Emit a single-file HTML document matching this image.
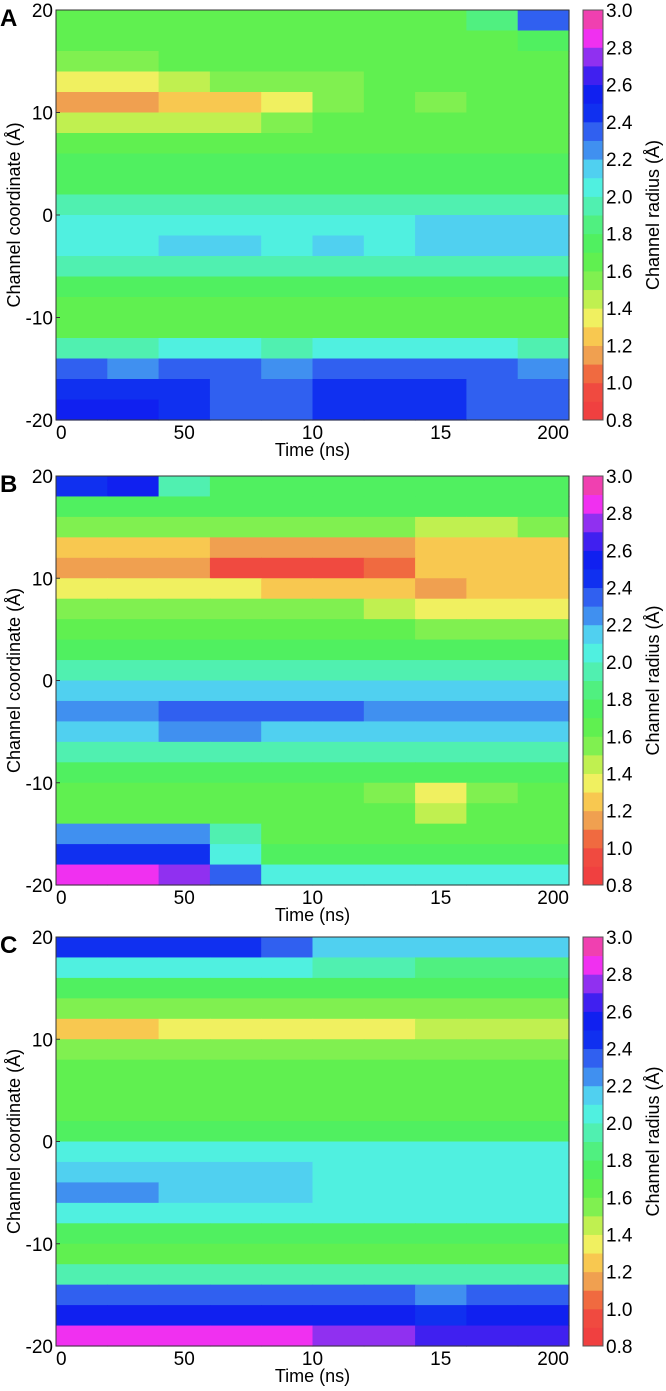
<!DOCTYPE html>
<html><head><meta charset="utf-8"><style>
html,body{margin:0;padding:0;background:#fff;}
svg{display:block;font-family:"Liberation Sans",Arial,sans-serif;}
</style></head><body>
<svg id="fig" width="666" height="1391" viewBox="0 0 666 1391" xmlns="http://www.w3.org/2000/svg"></svg>
<script>
// Colour levels (0.8 - 3.0 in 0.1 steps)
const levelColors=["#f04040","#f04a40","#f06a40","#f0a050","#f8c850","#f0f060","#c0f050","#80f050","#60f050","#50f060","#50f080","#50f0b0","#50f0e0","#50d0f0","#4090f0","#3060f0","#1030f0","#1020f0","#4020f0","#9030f0","#f030f0","#f040b0"];
const cbTicks=[0.8,1.0,1.2,1.4,1.6,1.8,2.0,2.2,2.4,2.6,2.8,3.0];
const yTicks=[20,10,0,-10,-20];
const xTickLabels=["0","50","10","15","200"];
const xTickVals=[0,50,100,150,200];
// Radius grids: rows = z bins from 20 down to -20 (2 Å), cols = time bins (20 ns)
const radiusA=[
[1.6,1.6,1.6,1.6,1.6,1.6,1.6,1.6,1.8,2.3],
[1.6,1.6,1.6,1.6,1.6,1.6,1.6,1.6,1.6,1.7],
[1.5,1.5,1.6,1.6,1.6,1.6,1.6,1.6,1.6,1.6],
[1.3,1.3,1.4,1.5,1.5,1.5,1.6,1.6,1.6,1.6],
[1.1,1.1,1.2,1.2,1.3,1.5,1.6,1.5,1.6,1.6],
[1.4,1.4,1.4,1.4,1.5,1.6,1.6,1.6,1.6,1.6],
[1.6,1.6,1.6,1.6,1.6,1.6,1.6,1.6,1.6,1.6],
[1.7,1.7,1.7,1.7,1.7,1.7,1.7,1.7,1.7,1.7],
[1.7,1.7,1.7,1.7,1.7,1.7,1.7,1.7,1.7,1.7],
[1.9,1.9,1.9,1.9,1.9,1.9,1.9,1.9,1.9,1.9],
[2.0,2.0,2.0,2.0,2.0,2.0,2.0,2.1,2.1,2.1],
[2.0,2.0,2.1,2.1,2.0,2.1,2.0,2.1,2.1,2.1],
[1.9,1.9,1.9,1.9,1.9,1.9,1.9,1.9,1.9,1.9],
[1.7,1.7,1.7,1.7,1.7,1.7,1.7,1.7,1.7,1.7],
[1.6,1.6,1.6,1.6,1.6,1.6,1.6,1.6,1.6,1.6],
[1.6,1.6,1.6,1.6,1.6,1.6,1.6,1.6,1.6,1.6],
[1.9,1.9,2.0,2.0,1.9,2.0,2.0,2.0,2.0,1.9],
[2.3,2.2,2.3,2.3,2.2,2.3,2.3,2.3,2.3,2.2],
[2.4,2.4,2.4,2.3,2.3,2.4,2.4,2.4,2.3,2.3],
[2.5,2.5,2.4,2.3,2.3,2.4,2.4,2.4,2.3,2.3]];
const radiusB=[
[2.4,2.5,1.9,1.7,1.7,1.7,1.7,1.7,1.7,1.7],
[1.7,1.7,1.7,1.7,1.7,1.7,1.7,1.7,1.7,1.7],
[1.5,1.5,1.5,1.5,1.5,1.5,1.5,1.4,1.4,1.5],
[1.2,1.2,1.2,1.1,1.1,1.1,1.1,1.2,1.2,1.2],
[1.1,1.1,1.1,0.9,0.9,0.9,1.0,1.2,1.2,1.2],
[1.3,1.3,1.3,1.3,1.2,1.2,1.2,1.1,1.2,1.2],
[1.5,1.5,1.5,1.5,1.5,1.5,1.4,1.3,1.3,1.3],
[1.6,1.6,1.6,1.6,1.6,1.6,1.6,1.5,1.5,1.5],
[1.7,1.7,1.7,1.7,1.7,1.7,1.7,1.7,1.7,1.7],
[1.9,1.9,1.9,1.9,1.9,1.9,1.9,1.9,1.9,1.9],
[2.1,2.1,2.1,2.1,2.1,2.1,2.1,2.1,2.1,2.1],
[2.2,2.2,2.3,2.3,2.3,2.3,2.2,2.2,2.2,2.2],
[2.1,2.1,2.2,2.2,2.1,2.1,2.1,2.1,2.1,2.1],
[1.9,1.9,1.9,1.9,1.9,1.9,1.9,1.9,1.9,1.9],
[1.7,1.7,1.7,1.7,1.7,1.7,1.7,1.7,1.7,1.7],
[1.6,1.6,1.6,1.6,1.6,1.6,1.5,1.3,1.5,1.6],
[1.6,1.6,1.6,1.6,1.6,1.6,1.6,1.4,1.6,1.6],
[2.2,2.2,2.2,1.9,1.6,1.6,1.6,1.6,1.6,1.6],
[2.4,2.4,2.4,2.0,1.7,1.7,1.7,1.7,1.7,1.7],
[2.8,2.8,2.7,2.3,2.0,2.0,2.0,2.0,2.0,2.0]];
const radiusC=[
[2.4,2.4,2.4,2.4,2.3,2.1,2.1,2.1,2.1,2.1],
[2.0,2.0,2.0,2.0,2.0,1.9,1.9,1.8,1.8,1.8],
[1.7,1.7,1.7,1.7,1.7,1.7,1.7,1.7,1.7,1.7],
[1.5,1.5,1.5,1.5,1.5,1.5,1.5,1.5,1.5,1.5],
[1.2,1.2,1.3,1.3,1.3,1.3,1.3,1.4,1.4,1.4],
[1.5,1.5,1.5,1.5,1.5,1.5,1.5,1.5,1.5,1.5],
[1.6,1.6,1.6,1.6,1.6,1.6,1.6,1.6,1.6,1.6],
[1.6,1.6,1.6,1.6,1.6,1.6,1.6,1.6,1.6,1.6],
[1.6,1.6,1.6,1.6,1.6,1.6,1.6,1.6,1.6,1.6],
[1.7,1.7,1.7,1.7,1.7,1.7,1.7,1.7,1.7,1.7],
[2.0,2.0,2.0,2.0,2.0,2.0,2.0,2.0,2.0,2.0],
[2.1,2.1,2.1,2.1,2.1,2.0,2.0,2.0,2.0,2.0],
[2.2,2.2,2.1,2.1,2.1,2.0,2.0,2.0,2.0,2.0],
[2.0,2.0,2.0,2.0,2.0,2.0,2.0,2.0,2.0,2.0],
[1.7,1.7,1.7,1.7,1.7,1.7,1.7,1.7,1.7,1.7],
[1.6,1.6,1.6,1.6,1.6,1.6,1.6,1.6,1.6,1.6],
[1.9,1.9,1.9,1.9,1.9,1.9,1.9,1.9,1.9,1.9],
[2.3,2.3,2.3,2.3,2.3,2.3,2.3,2.2,2.3,2.3],
[2.5,2.5,2.5,2.5,2.5,2.5,2.5,2.4,2.5,2.5],
[2.8,2.8,2.8,2.8,2.8,2.7,2.7,2.6,2.6,2.6]];

const NS="http://www.w3.org/2000/svg";
const svg=document.getElementById('fig');
function mk(tag,attrs,parent){const e=document.createElementNS(NS,tag);for(const k in attrs)e.setAttribute(k,attrs[k]);(parent||svg).appendChild(e);return e;}
function colorFor(r){let i=Math.floor(Math.round((r-0.8)*1000)/100);i=Math.max(0,Math.min(levelColors.length-1,i));return levelColors[i];}

const X0=56,X1=569,CB0=583,CB1=603;
const panels=[{id:"a",label:"A",top:10,bot:420,data:radiusA},{id:"b",label:"B",top:476,bot:885,data:radiusB},{id:"c",label:"C",top:937,bot:1346,data:radiusC}];

panels.forEach(p=>{
  const g=mk('g',{});
  
  
  const xs=t=>X0+(t/200)*(X1-X0);
  const ys=z=>p.top+(20-z)/40*(p.bot-p.top);
  const hm=mk('g',{},g);
  
  
  const nr=p.data.length,nc=p.data[0].length;
  p.data.forEach((row,ri)=>{
    row.forEach((v,ci)=>{
      const z0=20-ri*40/nr,z1=20-(ri+1)*40/nr,t0=ci*200/nc,t1=(ci+1)*200/nc;
      const c=mk('rect',{x:xs(t0),y:ys(z0),width:xs(t1)-xs(t0)+0.6,height:ys(z1)-ys(z0)+0.6,fill:colorFor(v)},hm);
      
      
    });
  });
  const fr=mk('rect',{x:X0,y:p.top,width:X1-X0,height:p.bot-p.top,fill:'none',stroke:'#333',"stroke-width":1},g);
  
  
  const pl=mk('text',{x:0,y:p.top+16,"font-size":24,"font-weight":"bold"},g);pl.textContent=p.label;
  
  
  yTicks.forEach(z=>{
    const t=mk('text',{x:53,y:ys(z)+7,"font-size":19,"text-anchor":"end"},g);t.textContent=z;
    
    
    mk('line',{x1:X0,x2:X0+4,y1:ys(z),y2:ys(z),stroke:'#333'},g);
  });
  xTickVals.forEach((v,i)=>{
    const t=mk('text',{x:xs(v),y:p.bot+19,"font-size":19,"text-anchor":i==0?"start":(i==4?"end":"middle")},g);
    t.textContent=xTickLabels[i];
    
    
  });
  const xt=mk('text',{x:(X0+X1)/2,y:p.bot+36,"font-size":18,"text-anchor":"middle"},g);xt.textContent="Time (ns)";
  
  
  const cy=(p.top+p.bot)/2;
  const yt=mk('text',{x:0,y:0,"font-size":18,"text-anchor":"middle",transform:`translate(20,${cy}) rotate(-90)`},g);yt.textContent="Channel coordinate (Å)";
  
  
  const cb=mk('g',{},g);
  
  
  const cs=v=>p.bot-(v-0.8)/2.2*(p.bot-p.top);
  levelColors.forEach((c,i)=>{
    const v0=0.8+i*0.1,v1=v0+0.1;
    const r=mk('rect',{x:CB0,y:cs(v1),width:CB1-CB0,height:cs(v0)-cs(v1)+0.5,fill:c},cb);
    
    
  });
  mk('rect',{x:CB0,y:p.top,width:CB1-CB0,height:p.bot-p.top,fill:'none',stroke:'#555'},cb);
  cbTicks.forEach(v=>{
    const t=mk('text',{x:CB1+3,y:cs(v)+7,"font-size":19},cb);t.textContent=v.toFixed(1);
    
    
  });
  const ct=mk('text',{x:0,y:0,"font-size":18,"text-anchor":"middle",transform:`translate(659,${cy}) rotate(-90)`},cb);ct.textContent="Channel radius (Å)";
  
  
});
</script>
</body></html>
